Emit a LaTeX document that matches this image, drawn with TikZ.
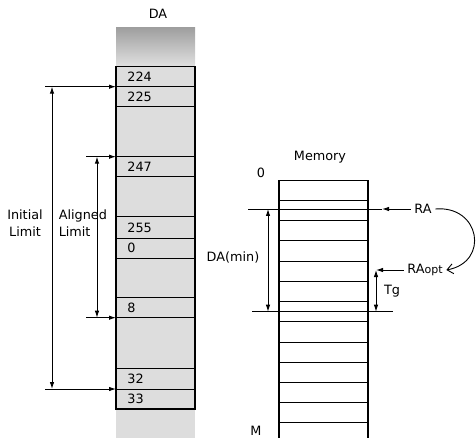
\documentclass[tikz,border=0pt]{standalone}
\usepackage{fontspec}
\setmainfont{DejaVu Sans}
\usetikzlibrary{calc,arrows.meta}

\begin{document}
\begin{tikzpicture}[x=1pt,y=-1pt,line width=0.9pt,font=\fontsize{12.8}{17.5}\selectfont,
  tip/.style={-{Latex[length=7pt,width=4.5pt]}},
  dtip/.style={{Latex[length=7pt,width=4.5pt]}-{Latex[length=7pt,width=4.5pt]}}]
\useasboundingbox (0,0) rectangle (476,438);
% DA column
\fill[gray!27] (116,28) rectangle (195,438);
\shade[top color=gray!75,bottom color=gray!27] (116,28) rectangle (195,64);
\node (DA) at (158,14) {DA};
\draw[line width=1.1pt] (116,66.7) rectangle (195,409);
\foreach \y in {86.7,106,156.7,176,216.7,238,258,297.7,317.7,368,389}{\draw (116,\y) -- (195,\y);}
\foreach \t/\y in {224/76.7,225/96.4,247/166.4,255/227.4,0/248,8/307.7,32/378.5,33/399}{\node[anchor=west,inner sep=0pt] (c\t) at (127,\y) {\t};}
% limits
\coordinate (A1) at (45,86.7); \coordinate (A2) at (116,86.7);
\coordinate (B1) at (45,389); \coordinate (B2) at (116,389);
\draw[tip] (A1) -- (A2); \draw[tip] (B1) -- (B2);
\draw[dtip] ($(A1)+(7,0)$) -- ($(B1)+(7,0)$);
\coordinate (C1) at (86,156.7); \coordinate (C2) at (116,156.7);
\coordinate (D1) at (86,317.7); \coordinate (D2) at (116,317.7);
\draw[tip] (C1) -- (C2); \draw[tip] (D1) -- (D2);
\draw[dtip] ($(C1)+(11,0)$) -- ($(D1)+(11,0)$);
\node[align=center] (ini) at (25,223) {Initial\\Limit};
\node[align=left,anchor=west] (ali) at (55,223) {Aligned\\Limit};
% Memory
\node (mem) at (320,157) {Memory};
\node (m0) at (261,173) {0};
\node (mM) at (256,431) {M};
\draw[line width=1.1pt] (279,438) -- (279,180.7) -- (368,180.7) -- (368,438);
\foreach \y in {200.7,220.7,240.7,261,281,301,321,342,362,382,402,422}{\draw (279,\y) -- (368,\y);}
\coordinate (E1) at (248,209); \coordinate (E2) at (382,209);
\coordinate (F1) at (252,311.7); \coordinate (F2) at (393,311.7);
\draw (E1) -- (E2); \draw (F1) -- (F2);
\draw[dtip] (268,209) -- (268,311.7);
\node (dmin) at (233,257) {DA(min)};
\node (RA) at (423,209) {RA};
\draw[tip] (RA) -- (E2);
\node (RAo) at (425,270) {RA{\fontsize{11}{12}\selectfont opt}};
\coordinate (G1) at (376,270); \coordinate (G2) at (376,311.7);
\draw[tip] (RAo) -- (G1);
\draw[dtip] (G1) -- (G2);
\node (Tg) at (392,291) {Tg};
\draw[-{Straight Barb[length=6pt,width=10pt]}] (RA.east) .. controls (480,205) and (490,262) .. (RAo.east);
\end{tikzpicture}
\end{document}
